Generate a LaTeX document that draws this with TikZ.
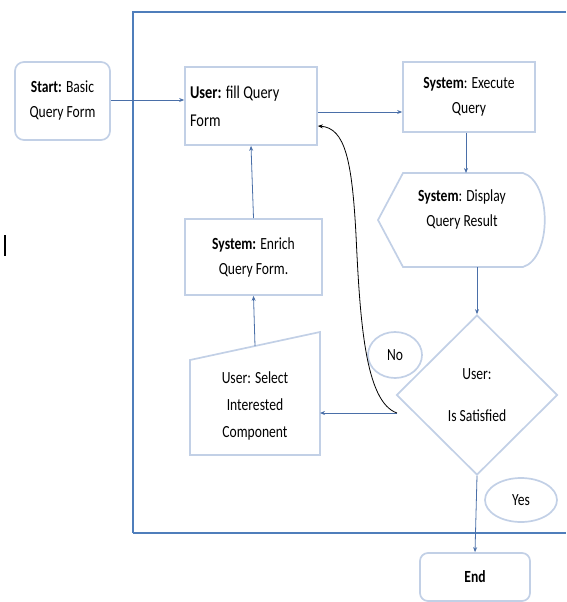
\documentclass[tikz,border=0pt]{standalone}
\usepackage{fontspec}
\setmainfont{Carlito}[FakeStretch=0.8]
\usetikzlibrary{shapes.geometric,arrows.meta}

\definecolor{boxline}{HTML}{C2D0E6}
\definecolor{frameline}{HTML}{4F7EBB}
\definecolor{flowline}{HTML}{4A6FA8}

\tikzset{
  stepbox/.style={draw=boxline, line width=1.7pt, align=center, inner sep=2pt},
  tagbubble/.style={draw=boxline, line width=1.7pt, ellipse, inner sep=0pt},
  flow/.style={draw=flowline, line width=0.8pt, -{Stealth[length=5pt,width=4pt]}},
}

\begin{document}
\begin{tikzpicture}[x=1pt, y=-1pt, font=\fontsize{17}{25}\selectfont]
\useasboundingbox (0,0) rectangle (566,602);

% 1. Outer frame (open on the right)
\draw[frameline, line width=1.2pt] (566,12) -- (133,12) -- (133,533);
\draw[frameline, line width=2pt] (133,533) -- (566,533);
\draw[black, line width=1.6pt] (5,235) -- (5,256);

% 2. Boxes
\node[stepbox, rounded corners=9pt, minimum width=95, minimum height=78] (start) at (62.5,101)
  {\textbf{Start:} Basic\\Query Form};
\node[stepbox, minimum width=132, minimum height=78, text width=122, align=flush left,
      font=\fontsize{18}{28}\selectfont] (fill) at (251,106)
  {\textbf{User:} fill Query\\Form};
\node[stepbox, minimum width=132, minimum height=70] (exec) at (469,97)
  {\textbf{System}: Execute\\Query};
\node[stepbox, minimum width=137, minimum height=76] (enrich) at (253.5,257)
  {\textbf{System:} Enrich\\Query Form.};

% display shape
\draw[boxline, line width=1.7pt] (378,220) -- (403,173) -- (523,173)
  .. controls (552,182) and (552,258) .. (523,267) -- (403,267) -- cycle;
\node[align=center] (disp) at (462,209) {\textbf{System}: Display\\Query Result};
\coordinate (disp-n) at (466,173);
\coordinate (disp-s) at (477,267);

% manual input shape
\draw[boxline, line width=1.7pt] (190,360) -- (320,332) -- (320,455) -- (190,455) -- cycle;
\node[align=center, font=\fontsize{17}{27}\selectfont] (select) at (255,406)
  {User: Select\\Interested\\Component};
\coordinate (select-n) at (255,346);
\coordinate (select-e) at (320,413);

% decision
\node[stepbox, diamond, minimum width=161, minimum height=160] (sat) at (477,395)
  {User:\\[17pt]Is Satisfied};
\node[tagbubble, minimum width=54, minimum height=46] (no) at (395,355) {No};
\node[tagbubble, minimum width=72, minimum height=44] (yes) at (521,500) {Yes};

\node[stepbox, rounded corners=8pt, minimum width=110, minimum height=48] (end) at (475,577)
  {\textbf{End}};

% 3. Routing
\draw[flow] (start.east |- 0,100) -- (fill.west |- 0,100);
\draw[flow] ([yshift=-6pt]fill.east) -- ([yshift=-6pt]fill.east -| exec.west);
\draw[flow] (exec.south -| disp-n) -- (disp-n);
\draw[flow] (disp-s) -- (sat.north);
\draw[flow] (sat.south) -- (end.north);
\coordinate (loop) at (397,413);
\draw[flow] (loop) -- (select-e);
\draw[flow] (select-n) -- (enrich.south);
\draw[flow] (enrich.north) -- (fill.south);
\draw[black, line width=0.8pt, -{Stealth[length=5pt,width=4pt]}]
  (loop) .. controls (365,402) and (360,320) .. (356,235)
  .. controls (352,160) and (345,128) .. ([yshift=-20pt]fill.east);
\end{tikzpicture}
\end{document}
